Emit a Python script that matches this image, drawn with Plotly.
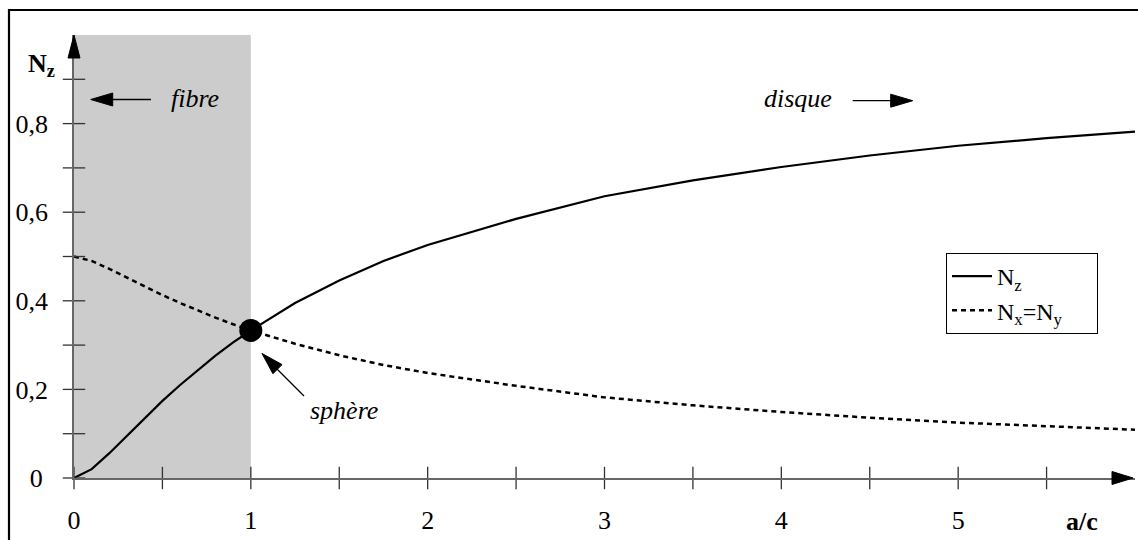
import plotly.graph_objects as go

# ---------------- data ----------------
ratio = [0, 0.1, 0.2, 0.3, 0.4, 0.5, 0.6, 0.7, 0.8, 0.9, 1.0,
         1.25, 1.5, 1.75, 2, 2.5, 3, 3.5, 4, 4.5, 5, 5.5, 6]
n_z = [0, 0.02, 0.056, 0.095, 0.135, 0.174, 0.210, 0.244, 0.276, 0.306, 0.333,
       0.395, 0.446, 0.490, 0.526, 0.585, 0.636, 0.672, 0.702, 0.728, 0.750, 0.767, 0.782]
n_xy = [0.5, 0.49, 0.472, 0.452, 0.432, 0.413, 0.395, 0.378, 0.362, 0.347, 0.333,
        0.303, 0.277, 0.255, 0.237, 0.208, 0.182, 0.164, 0.149, 0.136, 0.125, 0.117, 0.109]
sphere_x = [1]
sphere_y = [0.333]

x_tickvals = [0, 1, 2, 3, 4, 5]
x_ticktext = ["0", "1", "2", "3", "4", "5"]
x_tickmarks = [0, 0.5, 1, 1.5, 2, 2.5, 3, 3.5, 4, 4.5, 5, 5.5]
y_tickvals = [0, 0.2, 0.4, 0.6, 0.8]
y_ticktext = ["0\u2009", "0,2", "0,4", "0,6", "0,8"]
y_tickmarks = [0, 0.1, 0.2, 0.3, 0.4, 0.5, 0.6, 0.7, 0.8, 0.9]

# ---------------- geometry helpers ----------------
W, H = 1138, 540
L, R, T, B = 74, 3, 35, 62
XMAX, YMAX = 6.0, 1.0
PW, PH = W - L - R, H - T - B


def pxp(px):
    return (px - L) / PW


def pyp(py):
    return (H - B - py) / PH


FONT = "Liberation Serif"
AX = "#666666"

fig = go.Figure()

fig.add_trace(go.Scatter(x=ratio, y=n_z, mode="lines", name="N<sub>z</sub>",
                         line=dict(color="black", width=2.2), legendgroup="a"))
fig.add_trace(go.Scatter(x=ratio, y=n_xy, mode="lines",
                         name="N<sub>x</sub>=N<sub>y</sub>\u00a0\u00a0\u00a0\u00a0\u00a0",
                         line=dict(color="black", width=2.5, dash="5px,4px"), legendgroup="b"))
fig.add_trace(go.Scatter(x=sphere_x, y=sphere_y, mode="markers", showlegend=False,
                         marker=dict(color="black", size=23)))
# tick marks crossing the axes
fig.add_trace(go.Scatter(x=x_tickmarks, y=[0] * len(x_tickmarks), mode="markers",
                         showlegend=False, cliponaxis=False, hoverinfo="skip",
                         marker=dict(symbol="line-ns", size=16, line=dict(color="#333", width=1.3))))
fig.add_trace(go.Scatter(x=[0] * len(y_tickmarks), y=y_tickmarks, mode="markers",
                         showlegend=False, cliponaxis=False, hoverinfo="skip",
                         marker=dict(symbol="line-ew", size=16, line=dict(color="#333", width=1.3))))

shapes = []
# grey "fibre" region
shapes.append(dict(type="rect", xref="x", yref="y", x0=0, x1=1, y0=0, y1=YMAX,
                   fillcolor="#cccccc", line=dict(width=0), layer="below"))
# outer frame (left + top visible)
shapes.append(dict(type="rect", xref="paper", yref="paper", x0=pxp(9), x1=1.2,
                   y0=-0.5, y1=pyp(10), line=dict(color="black", width=2.2)))


def head(xa, ya, path):
    return dict(type="path", xref="paper", yref="paper", xsizemode="pixel", ysizemode="pixel",
                xanchor=pxp(xa), yanchor=pyp(ya), path=path, fillcolor="black",
                line=dict(color="black", width=1))


def seg(x0, y0, x1, y1, w=1.3):
    return dict(type="line", xref="paper", yref="paper", x0=pxp(x0), x1=pxp(x1),
                y0=pyp(y0), y1=pyp(y1), line=dict(color="black", width=w))


# axis arrowheads
shapes.append(head(1133, 478, "M0,0 L-21,6.5 L-21,-6.5 Z"))
shapes.append(head(74, 35, "M0,0 L-6,-23 L6,-23 Z"))
# fibre arrow
shapes.append(seg(151, 99.5, 100, 99.5))
shapes.append(head(90.7, 99.5, "M0,0 L22,6.5 L22,-6.5 Z"))
# disque arrow
shapes.append(seg(852.7, 100.7, 900, 100.7))
shapes.append(head(912.7, 100.7, "M0,0 L-22,6.5 L-22,-6.5 Z"))
# sphere arrow
shapes.append(seg(304, 396, 270, 362, 1.2))
shapes.append(head(262, 353.5, "M0,0 L20.1,-11.1 L10.9,-20.2 Z"))

annotations = [
    dict(x=pxp(195), y=pyp(99), text="<i>fibre</i>"),
    dict(x=pxp(798), y=pyp(99), text="<i>disque</i>"),
    dict(x=pxp(344), y=pyp(410), text="<i>sphère</i>"),
    dict(x=pxp(41), y=pyp(65), text="<b>N<sub>z</sub></b>"),
    dict(x=pxp(1082), y=pyp(521), text="<b>a/c</b>"),
]
for a in annotations:
    a.update(xref="paper", yref="paper", showarrow=False, xanchor="center", yanchor="middle",
             font=dict(family=FONT, size=26, color="black"))

fig.update_layout(
    width=W, height=H, autosize=False,
    margin=dict(l=L, r=R, t=T, b=B, pad=0),
    paper_bgcolor="white", plot_bgcolor="white",
    font=dict(family=FONT, size=26, color="black"),
    shapes=shapes, annotations=annotations,
    showlegend=True,
    legend=dict(x=pxp(946), y=pyp(253), xanchor="left", yanchor="top",
                bordercolor="black", borderwidth=1, bgcolor="white",
                font=dict(family=FONT, size=24, color="black"),
                traceorder="grouped", tracegroupgap=0, itemwidth=40),
    xaxis=dict(range=[0, XMAX], showline=True, linecolor=AX, linewidth=1.5, showgrid=False,
               zeroline=False, ticks="", tickmode="array", tickvals=x_tickvals, ticktext=x_ticktext,
               ticklabelstandoff=18, automargin=False, fixedrange=True),
    yaxis=dict(range=[0, YMAX], showline=True, linecolor=AX, linewidth=1.5, showgrid=False,
               zeroline=False, ticks="", tickmode="array", tickvals=y_tickvals, ticktext=y_ticktext,
               ticklabelstandoff=19, automargin=False, fixedrange=True),
)

fig.write_html("out.html", config={"displayModeBar": False},
               post_script="document.body.style.margin='0px';")
